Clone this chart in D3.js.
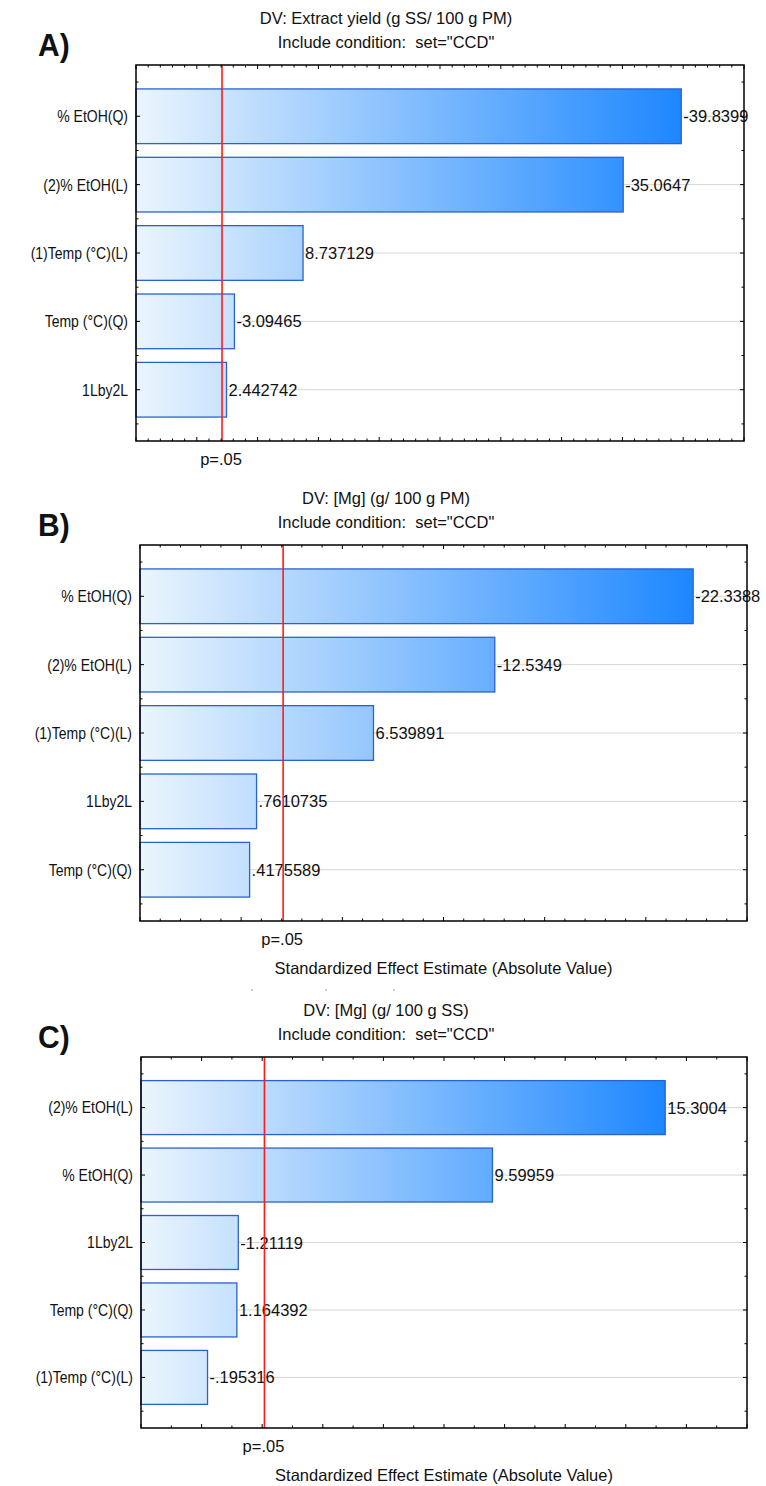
<!DOCTYPE html>
<html>
<head>
<meta charset="utf-8">
<script src="https://cdn.jsdelivr.net/npm/d3@7/dist/d3.min.js"></script>
<style>
  html, body { margin: 0; padding: 0; background: #fff; }
  svg text { font-family: Arial, "Liberation Sans", sans-serif; fill: #111; }
</style>
</head>
<body>
<svg id="chart" width="766" height="1486"></svg>
<script>
// pareto charts of standardized effects, three responses
var panelTags = ["A)", "B)", "C)"];
var dvTitles = [
    "DV: Extract yield (g SS/ 100 g PM)",
    "DV: [Mg] (g/ 100 g PM)",
    "DV: [Mg] (g/ 100 g SS)"
];
var conditionText = 'Include condition:  set="CCD"';
var axisTitle = "Standardized Effect Estimate (Absolute Value)";
var pLabel = "p=.05";
var pCritical = 2.074;

var catsA = ["% EtOH(Q)", "(2)% EtOH(L)", "(1)Temp (°C)(L)", "Temp (°C)(Q)", "1Lby2L"];
var valsA = [-39.8399, -35.0647, 8.737129, -3.09465, 2.442742];

var catsB = ["% EtOH(Q)", "(2)% EtOH(L)", "(1)Temp (°C)(L)", "1Lby2L", "Temp (°C)(Q)"];
var valsB = [-22.3388, -12.5349, 6.539891, 0.7610735, 0.4175589];

var catsC = ["(2)% EtOH(L)", "% EtOH(Q)", "1Lby2L", "Temp (°C)(Q)", "(1)Temp (°C)(L)"];
var valsC = [15.3004, 9.59959, -1.21119, 1.164392, -0.195316];

var xDomains = [[-5, 45], [-5, 25], [-2, 18]];
var majorSteps = [5, 5, 2];

var panels = [
    {cats: catsA, vals: valsA, left: 136, right: 744, top: 65, bottom: 441, showAxisTitle: false},
    {cats: catsB, vals: valsB, left: 140, right: 747, top: 545, bottom: 921, showAxisTitle: true},
    {cats: catsC, vals: valsC, left: 141, right: 747, top: 1057, bottom: 1428, showAxisTitle: true}
];

var svg = d3.select("#chart");
svg.append("rect").attr("width", 766).attr("height", 1486).attr("fill", "#fff");

// statistica style: strip the leading zero
function statFmt(v) {
    return String(v).replace(/^(-?)0\./, "$1.");
}

// text that is a little taller than wide, like the source export
function label(parent, x, y, str, size, anchor, sy) {
    var t = parent.append("g")
        .attr("transform", "translate(" + x + "," + y + ") scale(1," + (sy || 1) + ")")
        .append("text")
        .attr("text-anchor", anchor || "start")
        .attr("dominant-baseline", "central")
        .style("font-size", size + "px")
        .style("white-space", "pre")
        .text(str);
    return t;
}

function drawPanel(p, idx) {
    var g = svg.append("g").attr("class", "panel-" + idx);
    var dom = xDomains[idx], step = majorSteps[idx];
    var x = d3.scaleLinear().domain(dom).range([p.left, p.right]);
    var y = d3.scaleLinear().domain([0.25, p.cats.length + 0.75]).range([p.top, p.bottom]);
    var band = y(1) - y(0);
    var maxAbs = d3.max(p.vals, function (v) { return Math.abs(v); });

    var gradId = "grad" + idx;
    var grad = svg.append("defs").append("linearGradient")
        .attr("id", gradId).attr("gradientUnits", "userSpaceOnUse")
        .attr("x1", p.left).attr("x2", x(maxAbs)).attr("y1", 0).attr("y2", 0);
    grad.append("stop").attr("offset", 0).attr("stop-color", "#ebf5fd");
    grad.append("stop").attr("offset", 1).attr("stop-color", "#1d87ff");

    // titles
    var cx = 386;
    label(g, cx, p.top - 47, dvTitles[idx], 16.5, "middle", 1.05);
    label(g, cx, p.top - 23, conditionText, 16.5, "middle", 1.05);
    label(g, 38, p.top - 20, panelTags[idx], 30, "start", 1.05)
        .style("font-weight", "bold");

    // grid lines at the category centres
    g.selectAll("line.grid").data(p.cats).enter().append("line")
        .attr("class", "grid")
        .attr("x1", p.left).attr("x2", p.right)
        .attr("y1", function (d, i) { return y(i + 1); })
        .attr("y2", function (d, i) { return y(i + 1); })
        .attr("stroke", "#d6d6d6").attr("stroke-width", 1);

    // bars
    g.selectAll("rect.bar").data(p.vals).enter().append("rect")
        .attr("class", "bar")
        .attr("x", p.left)
        .attr("y", function (d, i) { return y(i + 1) - band * 0.4; })
        .attr("width", function (d) { return x(Math.abs(d)) - p.left; })
        .attr("height", band * 0.8)
        .attr("fill", "url(#" + gradId + ")")
        .attr("stroke", "#2a62cf").attr("stroke-width", 1.3);

    // value labels
    p.vals.forEach(function (d, i) {
        label(g, x(Math.abs(d)) + 2, y(i + 1), statFmt(d), 16.5, "start", 1.0);
    });

    // category labels
    p.cats.forEach(function (d, i) {
        label(g, p.left - 8, y(i + 1), d, 14, "end", 1.15);
    });

    // significance line
    g.append("line")
        .attr("x1", x(pCritical)).attr("x2", x(pCritical))
        .attr("y1", p.top).attr("y2", p.bottom)
        .attr("stroke", "#ff1a1a").attr("stroke-width", 1.6);
    label(g, x(pCritical) - 1, p.bottom + 18, pLabel, 16.5, "middle", 1.05);

    if (p.showAxisTitle) {
        label(g, (p.left + p.right) / 2, p.bottom + 47, axisTitle, 16.5, "middle", 1.0);
    }

    // x ticks, inward on top and bottom
    var xt = d3.range(dom[0], dom[1] + 0.001, 1);
    function isMajor(v) { return Math.abs(v % step) < 1e-9; }
    [p.top, p.bottom].forEach(function (yy, k) {
        var dir = k === 0 ? 1 : -1;
        g.selectAll(null).data(xt).enter().append("line")
            .attr("x1", function (d) { return x(d); })
            .attr("x2", function (d) { return x(d); })
            .attr("y1", yy)
            .attr("y2", function (d) { return yy + dir * (isMajor(d) ? 4 : 2.5); })
            .attr("stroke", "#000").attr("stroke-width", 1);
    });

    // y ticks, inward on left and right
    var yt = d3.range(0.5, p.cats.length + 0.51, 0.5);
    [p.left, p.right].forEach(function (xx, k) {
        var dir = k === 0 ? 1 : -1;
        g.selectAll(null).data(yt).enter().append("line")
            .attr("y1", function (d) { return y(d); })
            .attr("y2", function (d) { return y(d); })
            .attr("x1", xx)
            .attr("x2", function (d) { return xx + dir * (d % 1 === 0 ? 4 : 2.5); })
            .attr("stroke", "#000").attr("stroke-width", 1);
    });

    // frame
    g.append("rect")
        .attr("x", p.left).attr("y", p.top)
        .attr("width", p.right - p.left).attr("height", p.bottom - p.top)
        .attr("fill", "none").attr("stroke", "#000").attr("stroke-width", 1.5);
}

panels.forEach(drawPanel);

// faint leftover marks below panel B
svg.selectAll("circle.speck").data([252, 326, 394]).enter().append("circle")
    .attr("cx", function (d) { return d; }).attr("cy", 990).attr("r", 0.8)
    .attr("fill", "#888");
</script>
</body>
</html>
